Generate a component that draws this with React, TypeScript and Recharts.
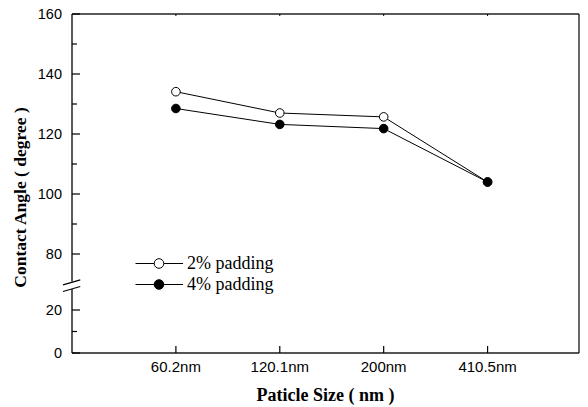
import { LineChart, Line, XAxis, YAxis } from 'recharts'

const categories = ['60.2nm', '120.1nm', '200nm', '410.5nm']
const padding2 = [134.1, 127.0, 125.7, 104.0]
const padding4 = [128.5, 123.2, 121.8, 104.0]
const yMajorTicks = [0, 20, 80, 100, 120, 140, 160]
const yMinorTicks = [10, 90, 110, 130, 150]

// broken axis: 0..~30 squeezed at the bottom, 70..160 above it
const LOW_SCALE = 2.15
const HIGH_SCALE = 3
const HIGH_SHIFT = 141
const BREAK_AT = 67.5

function toAxis(v: number) {
  return v <= 40 ? v * LOW_SCALE : v * HIGH_SCALE - HIGH_SHIFT
}

const series = [
  { key: 'p2', name: '2% padding', values: padding2, fill: '#fff' },
  { key: 'p4', name: '4% padding', values: padding4, fill: '#000' },
]

const rows = categories.map((c, i) => ({
  x: i + 1,
  name: c,
  p2: padding2[i],
  p4: padding4[i],
}))

const yTickList = [...yMajorTicks, ...yMinorTicks]
  .sort((a, b) => a - b)
  .map(v => ({ axis: toAxis(v), label: v, major: yMajorTicks.includes(v) }))
const yTickValues = [...yTickList.map(t => t.axis), BREAK_AT].sort((a, b) => a - b)
const rightTicks = Array.from({ length: 17 }, (_, i) => i * 10).filter(v => v <= 20 || v >= 80).map(toAxis)

const sans = '"Liberation Sans", Arial, sans-serif'
const serif = '"Liberation Serif", "Times New Roman", serif'

function LeftTick(props: any) {
  const { x, y, payload } = props
  if (payload.value === BREAK_AT) {
    return (
      <g>
        <rect x={x - 2} y={y - 4} width={4} height={7.5} fill="#fff" />
        <line x1={x - 9} y1={y - 0.6} x2={x + 8.3} y2={y - 5.6} stroke="#000" strokeWidth={1.1} />
        <line x1={x - 9} y1={y + 6} x2={x + 8.3} y2={y + 1} stroke="#000" strokeWidth={1.1} />
      </g>
    )
  }
  const t = yTickList.find(k => k.axis === payload.value)
  if (!t) return null
  return (
    <g>
      <line x1={x} x2={x + (t.major ? 8 : 5)} y1={y} y2={y} stroke="#000" strokeWidth={1.2} />
      {t.major && (
        <text x={x - 10} y={y} textAnchor="end" dominantBaseline="central" fontFamily={sans} fontSize={14.5} fill="#000">
          {t.label}
        </text>
      )}
    </g>
  )
}

function RightTick(props: any) {
  const { x, y, payload } = props
  if (payload.value === BREAK_AT) {
    return (
      <g>
        <rect x={x - 2} y={y - 4.5} width={4} height={8} fill="#fff" />
        <line x1={x - 4.4} y1={y - 2.3} x2={x + 6.6} y2={y - 6.3} stroke="#000" strokeWidth={1.1} />
        <line x1={x - 4.4} y1={y + 6} x2={x + 6.6} y2={y + 2} stroke="#000" strokeWidth={1.1} />
      </g>
    )
  }
  return <line x1={x} x2={x - 2} y1={y} y2={y} stroke="#000" strokeWidth={1} />
}

function BottomTick(props: any) {
  const { x, y, payload } = props
  return (
    <g>
      <line x1={x} x2={x} y1={y} y2={y - 7} stroke="#000" strokeWidth={1.2} />
      <text x={x} y={y + 19} textAnchor="middle" fontFamily={sans} fontSize={15} fill="#000">
        {categories[payload.value - 1]}
      </text>
    </g>
  )
}

function TopTick(props: any) {
  const { x, y } = props
  return <line x1={x} x2={x} y1={y} y2={y + 2} stroke="#000" strokeWidth={1} />
}

function YTitle(props: any) {
  const { viewBox } = props
  const cx = 25.5
  const cy = viewBox.y + viewBox.height / 2 + 14
  return (
    <text
      x={cx}
      y={cy}
      transform={`rotate(-90 ${cx} ${cy})`}
      textAnchor="middle"
      fontFamily={serif}
      fontWeight="bold"
      fontSize={17.5}
      fill="#000"
    >
      Contact Angle ( degree )
    </text>
  )
}

function XTitle(props: any) {
  const { viewBox } = props
  return (
    <text
      x={viewBox.x + viewBox.width / 2}
      y={401}
      textAnchor="middle"
      fontFamily={serif}
      fontWeight="bold"
      fontSize={18}
      fill="#000"
    >
      Paticle Size ( nm )
    </text>
  )
}

function makeDot(fill: string) {
  return (props: any) => {
    const { cx, cy, index } = props
    return <circle key={index} cx={cx} cy={cy} r={4.3} fill={fill} stroke="#000" strokeWidth={1} />
  }
}

export default function App() {
  return (
    <div style={{ position: 'absolute', left: 0, top: 0, width: 588, height: 407, background: '#fff' }}>
      <LineChart width={588} height={407} data={rows} margin={{ top: 13, right: 8, bottom: 0, left: 0 }}>
        <XAxis
          xAxisId="bottom"
          dataKey="x"
          type="number"
          domain={[0, 4.88]}
          ticks={[1, 2, 3, 4]}
          interval={0}
          height={54}
          tickSize={0}
          tickMargin={0}
          tick={<BottomTick />}
          axisLine={{ stroke: '#555', strokeWidth: 2 }}
          label={<XTitle />}
        />
        <XAxis
          xAxisId="top"
          orientation="top"
          dataKey="x"
          type="number"
          domain={[0, 4.88]}
          ticks={[1, 2, 3, 4]}
          interval={0}
          height={1}
          tickSize={0}
          tickMargin={0}
          tick={<TopTick />}
          axisLine={{ stroke: '#222', strokeWidth: 1.5 }}
        />
        <YAxis
          yAxisId="left"
          type="number"
          domain={[0, 339]}
          ticks={yTickValues}
          interval={0}
          width={72}
          tickSize={0}
          tickMargin={0}
          tick={<LeftTick />}
          axisLine={{ stroke: '#000', strokeWidth: 1.3 }}
          label={<YTitle />}
        />
        <YAxis
          yAxisId="right"
          orientation="right"
          type="number"
          domain={[0, 339]}
          ticks={[...rightTicks, BREAK_AT].sort((a, b) => a - b)}
          interval={0}
          width={1}
          tickSize={0}
          tickMargin={0}
          tick={<RightTick />}
          axisLine={{ stroke: '#000', strokeWidth: 1.2 }}
        />
        {series.map(s => (
          <Line
            key={s.key}
            xAxisId="bottom"
            yAxisId="left"
            type="linear"
            dataKey={(r: any) => toAxis(r[s.key])}
            name={s.name}
            stroke="#000"
            strokeWidth={1}
            dot={makeDot(s.fill)}
            activeDot={false}
            isAnimationActive={false}
          />
        ))}
      </LineChart>
      <div style={{ position: 'absolute', left: 128, top: 253, fontFamily: serif, fontSize: 18, color: '#000' }}>
        {series.map(s => (
          <div key={s.key} style={{ display: 'flex', alignItems: 'center', height: 21 }}>
            <svg width={57} height={21} style={{ display: 'block' }}>
              <line x1={7.5} x2={55} y1={10.5} y2={10.5} stroke="#000" strokeWidth={1} />
              <circle cx={31} cy={10.5} r={4.8} fill={s.fill} stroke="#000" strokeWidth={1} />
            </svg>
            <span style={{ marginLeft: 2, lineHeight: '21px' }}>{s.name}</span>
          </div>
        ))}
      </div>
    </div>
  )
}
